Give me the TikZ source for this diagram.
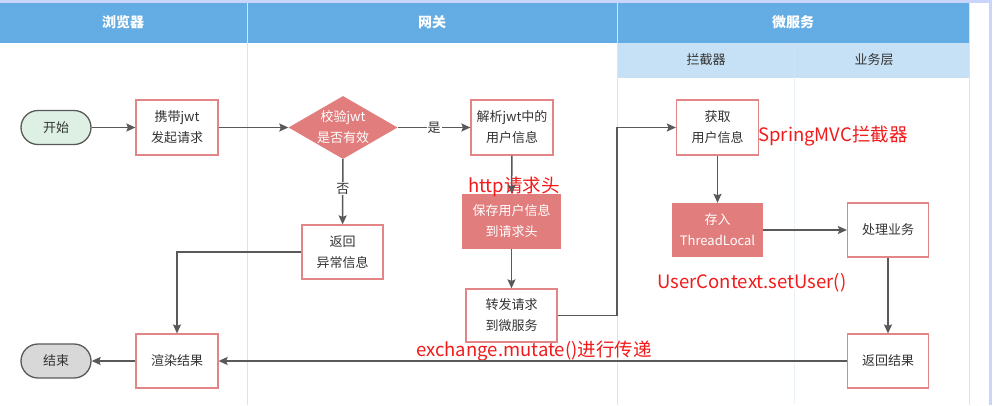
\documentclass[tikz,border=0pt]{standalone}
\usepackage{fontspec}
\setmainfont{Noto Sans CJK SC}
\usetikzlibrary{shapes.geometric,arrows.meta}
\definecolor{hdr}{HTML}{63ADE4}
\definecolor{subhdr}{HTML}{C6E1F5}
\definecolor{sepc}{HTML}{D5E5F2}
\definecolor{framec}{HTML}{C9D5FA}
\definecolor{pinkb}{HTML}{E38487}
\definecolor{salmon}{HTML}{E27D7D}
\definecolor{linec}{HTML}{595959}
\definecolor{txt}{HTML}{333333}
\definecolor{startc}{HTML}{DDF0E3}
\definecolor{endc}{HTML}{D8D8D8}
\definecolor{redt}{HTML}{F21A1A}
\tikzset{
  boxn/.style={draw=pinkb, line width=1.2pt, fill=white, align=center, text=txt,
    font=\fontsize{13pt}{21pt}\selectfont, inner sep=0pt},
  fillbox/.style={fill=salmon, align=center, text=white,
    font=\fontsize{13pt}{21pt}\selectfont, inner sep=0pt},
  term/.style={draw=linec, line width=1.3pt, rounded corners=17pt, minimum width=70pt,
    minimum height=34pt, text=txt, font=\fontsize{13pt}{16pt}\selectfont},
  diam/.style={diamond, fill=salmon, minimum width=109pt, minimum height=63pt, inner sep=0pt},
  dtext/.style={align=center, text=white, font=\fontsize{13pt}{21pt}\selectfont},
  arr/.style={draw=linec, line width=1.5pt, -{Stealth[length=9pt,width=8pt,inset=1.5pt]}},
  lbl/.style={fill=white, inner sep=1pt, text=txt, font=\fontsize{13pt}{16pt}\selectfont},
  redlbl/.style={text=redt, font=\fontsize{18.5pt}{22pt}\selectfont, inner sep=0pt},
  hdrtext/.style={text=white, font=\fontsize{14pt}{16pt}\selectfont\bfseries},
  subtext/.style={text=txt, font=\fontsize{13pt}{16pt}\selectfont},
  sepline/.style={draw=sepc, line width=1pt}
}
\begin{document}
\begin{tikzpicture}[x=1pt,y=-1pt]
\useasboundingbox (0,0) rectangle (1007,405);
\fill[white] (0,0) rectangle (1007,405);
% outer frame
\fill[framec] (0,0) rectangle (992,3);
\fill[framec] (989,0) rectangle (992,405);
% headers
\fill[hdr] (0,3) rectangle (969,43);
\fill[subhdr] (617,43) rectangle (969,78);
\draw[sepline] (247,3) -- (247,405);
\draw[sepline] (617,3) -- (617,405);
\draw[sepline] (969,3) -- (969,405);
\draw[sepline, densely dotted] (794,43) -- (794,405);
\node[hdrtext] (h1) at (123,22) {浏览器};
\node[hdrtext] (h2) at (432,22) {网关};
\node[hdrtext] (h3) at (793,22) {微服务};
\node[subtext] (s1) at (706,60) {拦截器};
\node[subtext] (s2) at (874,60) {业务层};

% nodes
\node[term, fill=startc] (start) at (56,127.5) {开始};
\node[boxn, minimum width=82pt, minimum height=55pt] (carry) at (177,127.5) {携带jwt\\发起请求};
\node[diam, label={[dtext]center:校验jwt\\是否有效}] (chk) at (343,127.5) {};
\node[boxn, minimum width=82pt, minimum height=55pt] (parse) at (512,127.5) {解析jwt中的\\用户信息};
\node[boxn, minimum width=81pt, minimum height=54pt] (noret) at (342.5,252) {返回\\异常信息};
\node[fillbox, minimum width=99pt, minimum height=55pt] (save) at (511.5,221.5) {保存用户信息\\到请求头};
\node[boxn, minimum width=91pt, minimum height=53pt] (fwd) at (511.5,315.5) {转发请求\\到微服务};
\node[boxn, minimum width=82pt, minimum height=55pt] (get) at (717.5,127.5) {获取\\用户信息};
\node[fillbox, minimum width=91pt, minimum height=54pt] (store) at (717.5,230) {存入\\ThreadLocal};
\node[boxn, minimum width=81pt, minimum height=54pt] (proc) at (888,230) {处理业务};
\node[boxn, minimum width=81pt, minimum height=54pt] (retres) at (888,361) {返回结果};
\node[boxn, minimum width=82pt, minimum height=54pt] (render) at (177,361) {渲染结果};
\node[term, fill=endc] (end) at (56,361) {结束};

% red annotations
\node[redlbl] (a1) at (514,187) {http请求头};
\node[redlbl] (a2) at (534,351) {exchange.mutate()进行传递};
\node[redlbl] (a3) at (833,136) {SpringMVC拦截器};
\node[redlbl] (a4) at (752,283) {UserContext.setUser()};

% connectors
\coordinate (bend) at (617,127.5);
\draw[arr] (start) -- (carry);
\draw[arr] (carry) -- (chk);
\draw[arr] (chk) -- node[lbl] {是} (parse);
\draw[arr] (chk) -- node[lbl, pos=0.45] {否} (noret);
\draw[arr] (parse) -- (save);
\draw[arr] (save) -- (fwd);
\draw[arr] (fwd.east) -| (bend) -- (get.west);
\draw[arr] (noret.west) -| (render.north);
\draw[arr] (get) -- (store);
\draw[arr] (store) -- (proc);
\draw[arr] (proc) -- (retres);
\draw[arr] (retres) -- (render);
\draw[arr] (render) -- (end);
\end{tikzpicture}
\end{document}
